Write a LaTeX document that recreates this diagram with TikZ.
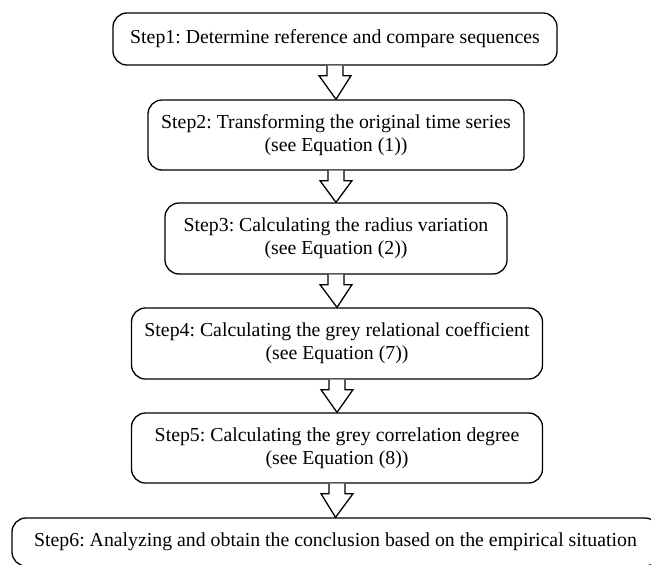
\documentclass[tikz,border=0pt]{standalone}
\usepackage{fontspec}
\setmainfont{Liberation Serif}
\usetikzlibrary{calc}
\frenchspacing
\tikzset{
  stepbox/.style={draw, line width=1.3pt, rounded corners=14pt, inner sep=0pt,
    align=center, font=\fontsize{19.8}{23}\selectfont},
  harrow/.style={draw, line width=1.3pt, fill=white, line join=miter}
}
\newcommand\hollowarrow[2]{%
  \draw[harrow] ($(#1.south)+(-8,0)$) -- ($(#1.south)+(-8,10)$) -- ($(#1.south)+(-16,10)$)
    -- (#2.north) -- ($(#1.south)+(16,10)$) -- ($(#1.south)+(8,10)$) -- ($(#1.south)+(8,0)$);}
\begin{document}
\begin{tikzpicture}[x=1pt,y=-1pt]
\useasboundingbox (0,0) rectangle (651,565);
\clip (0,0) rectangle (651,565);
\node[stepbox, minimum width=444pt, minimum height=52pt] (b1) at (335,39)
  {Step1: Determine reference and compare sequences};
\node[stepbox, minimum width=376pt, minimum height=70pt] (b2) at (336,135)
  {Step2: Transforming the original time series\\(see Equation (1))};
\node[stepbox, minimum width=342pt, minimum height=71pt] (b3) at (336,238.5)
  {Step3: Calculating the radius variation\\(see Equation (2))};
\node[stepbox, minimum width=411pt, minimum height=71pt] (b4) at (337,343.5)
  {Step4: Calculating the grey relational coefficient\\(see Equation (7))};
\node[stepbox, minimum width=411pt, minimum height=70pt] (b5) at (337,448)
  {Step5: Calculating the grey correlation degree\\(see Equation (8))};
\node[stepbox, minimum width=647pt, minimum height=48pt] (b6) at (335.5,542)
  {Step6: Analyzing and obtain the conclusion based on the empirical situation};
\hollowarrow{b1}{b2}
\hollowarrow{b2}{b3}
\hollowarrow{b3}{b4}
\hollowarrow{b4}{b5}
\hollowarrow{b5}{b6}
\end{tikzpicture}
\end{document}
